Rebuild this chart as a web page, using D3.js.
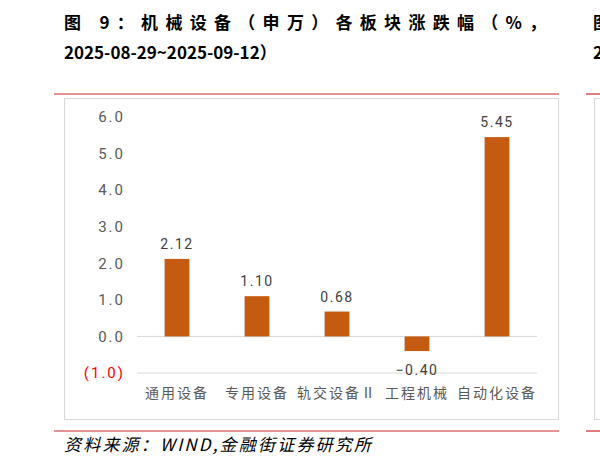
<!DOCTYPE html>
<html><head><meta charset="utf-8">
<script src="https://cdn.jsdelivr.net/npm/d3@7"></script>
<style>body{margin:0;background:#fff}</style>
</head><body>
<svg id="c" width="600" height="464"></svg>
<script>
const categories = ['通用设备', '专用设备', '轨交设备Ⅱ', '工程机械', '自动化设备']
const values = [2.12, 1.10, 0.68, -0.40, 5.45]
const yTicks = [-1, 0, 1, 2, 3, 4, 5, 6]

const svg = d3.select('#c')
const cjk = '"Noto Sans CJK SC", sans-serif'

// title
svg.append('text').attr('x', 64).attr('y', 29).attr('font-family', cjk)
    .attr('font-size', 17).attr('font-weight', 'bold').attr('letter-spacing', 7.3)
    .text('图 9：机械设备（申万）各板块涨跌幅（%，')
svg.append('text').attr('x', 64).attr('y', 59).attr('font-family', cjk)
    .attr('font-size', 17).attr('font-weight', 'bold')
    .text('2025-08-29~2025-09-12）')
svg.append('text').attr('x', 593).attr('y', 29).attr('font-family', cjk)
    .attr('font-size', 17).attr('font-weight', 'bold').text('图')
svg.append('text').attr('x', 593).attr('y', 59).attr('font-family', cjk)
    .attr('font-size', 17).attr('font-weight', 'bold').text('2')

// red rules
;[[54, 559, 94], [54, 559, 431], [586, 600, 94], [586, 600, 431]].forEach(([a, b, y]) =>
    svg.append('line').attr('x1', a).attr('x2', b).attr('y1', y).attr('y2', y)
        .attr('stroke', '#c9262b').attr('stroke-width', 1.2))

// chart box
svg.append('rect').attr('x', 64.5).attr('y', 98.5).attr('width', 494).attr('height', 321)
    .attr('fill', '#fff').attr('stroke', '#d9d9d9')
svg.append('rect').attr('x', 594.5).attr('y', 98.5).attr('width', 20).attr('height', 321)
    .attr('fill', '#fff').attr('stroke', '#d9d9d9')

const y = d3.scaleLinear().domain([-1, 6]).range([373, 117])
const x = d3.scaleBand().domain(categories).range([137, 537]).paddingInner(0.69).paddingOuter(0.345)

const g = svg.append('g')
const yAxis = d3.axisLeft(y).tickValues(yTicks).tickSize(0).tickPadding(12)
    .tickFormat(d => d < 0 ? '(' + d3.format('.1f')(-d) + ')' : d3.format('.1f')(d))
g.append('g').attr('transform', 'translate(137,0)').call(yAxis)
    .call(a => a.select('.domain').remove())
    .selectAll('text').attr('font-family', 'Roboto, sans-serif').attr('font-size', 15)
    .attr('letter-spacing', 2)
    .attr('fill', d => d < 0 ? '#ff0000' : '#595959')

;[0, -1].forEach(v => g.append('line').attr('x1', 137).attr('x2', 537)
    .attr('y1', y(v)).attr('y2', y(v)).attr('stroke', '#d9d9d9'))

g.selectAll('rect.bar').data(values).join('rect').attr('class', 'bar')
    .attr('x', (d, i) => x(categories[i])).attr('width', x.bandwidth())
    .attr('y', d => y(Math.max(0, d))).attr('height', d => Math.abs(y(d) - y(0)))
    .attr('fill', '#c55a11')

g.selectAll('text.lbl').data(values).join('text').attr('class', 'lbl')
    .attr('x', (d, i) => x(categories[i]) + x.bandwidth() / 2)
    .attr('y', d => d >= 0 ? y(d) - 10 : y(d) + 24)
    .attr('text-anchor', 'middle').attr('font-family', 'Roboto, sans-serif')
    .attr('font-size', 14).attr('letter-spacing', 1.5).attr('fill', '#404040')
    .text(d => d3.format('.2f')(d))

g.selectAll('text.cat').data(categories).join('text').attr('class', 'cat')
    .attr('x', d => x(d) + x.bandwidth() / 2).attr('y', 398)
    .attr('text-anchor', 'middle').attr('font-family', cjk)
    .attr('font-size', 14).attr('letter-spacing', 2).attr('fill', '#595959').text(d => d)

svg.append('text').attr('x', 64).attr('y', 451).attr('font-family', cjk)
    .attr('font-size', 17).attr('font-style', 'italic').attr('letter-spacing', 2.2)
    .text('资料来源：WIND,金融街证券研究所')
</script>
</body></html>
